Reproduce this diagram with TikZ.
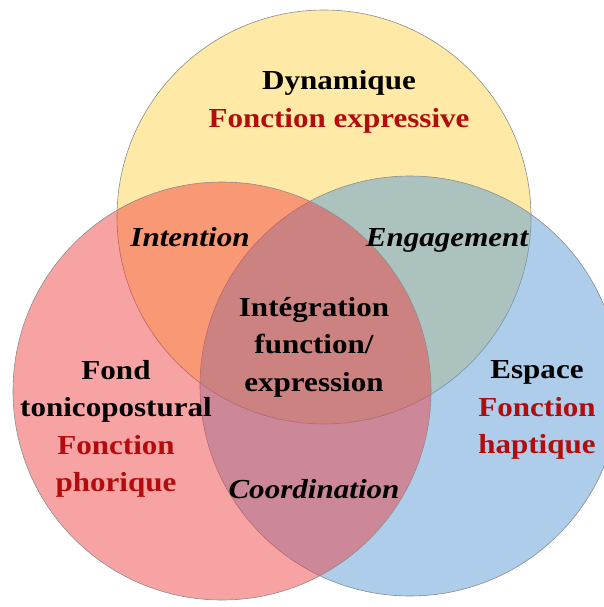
\documentclass[tikz,border=0pt]{standalone}
\usepackage{fontspec}
\setmainfont{Liberation Serif}[FakeStretch=1.13]
\definecolor{dynyellow}{RGB}{255,192,0}
\definecolor{espblue}{RGB}{91,155,213}
\definecolor{fondred}{RGB}{240,60,60}
\definecolor{fnred}{RGB}{178,12,12}
\definecolor{rim}{RGB}{140,140,140}

\begin{document}
\begin{tikzpicture}
        [x=1pt, y=-1pt,
        zone/.style={circle, draw=rim, line width=0.6pt, inner sep=0pt},
        label/.style={font=\fontsize{27.5}{37.5}\selectfont\bfseries, align=center, text=black},
        overlap/.style={font=\fontsize{27.5}{37.5}\selectfont\bfseries\itshape, text=black}]

        \useasboundingbox (0,0) rectangle (604,607);

        % the three circles
        \node[zone, minimum size=414pt, fill=dynyellow, fill opacity=0.35] (dyn) at (324,217) {};
        \node[zone, minimum size=420pt, fill=espblue, fill opacity=0.5] (esp) at (410,386) {};
        \node[zone, minimum size=418pt, fill=fondred, fill opacity=0.47] (fond) at (222,391) {};

        % labels of the circles
        \node[label] (dynlabel) at (339,102) {Dynamique\\\textcolor{fnred}{Fonction expressive}};
        \node[label] (fondlabel) at (116,429) {Fond\\tonicopostural\\\textcolor{fnred}{Fonction}\\\textcolor{fnred}{phorique}};
        \node[label] (esplabel) at (537,410) {Espace\\\textcolor{fnred}{Fonction}\\\textcolor{fnred}{haptique}};

        % labels of the overlaps
        \node[overlap] (intention) at (190,237) {Intention};
        \node[overlap] (engagement) at (447,240) {Engagement};
        \node[overlap] (coordination) at (314,489) {Coordination};
        \node[label] (integration) at (314,347) {Intégration\\function/\\expression};

        \end{tikzpicture}
\end{document}
